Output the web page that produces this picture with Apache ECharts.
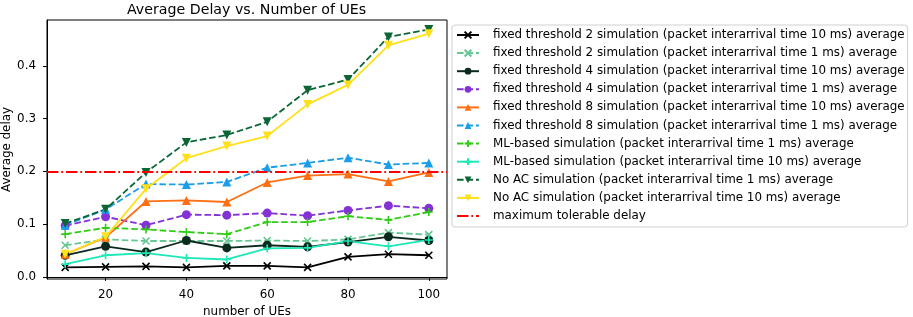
<!DOCTYPE html>
<html>
<head>
<meta charset="utf-8">
<script src="https://cdn.jsdelivr.net/npm/echarts@6/dist/echarts.min.js"></script>
<style>
  html, body { margin: 0; padding: 0; background: #fff; }
  #chart { width: 913px; height: 317px; }
</style>
</head>
<body>
<div id="chart"></div>
<script>
// number of UEs
var ues = [10, 20, 30, 40, 50, 60, 70, 80, 90, 100];

// average delay per curve
var ft2_10ms = [0.018, 0.019, 0.020, 0.018, 0.021, 0.021, 0.018, 0.038, 0.043, 0.041];
var ft2_1ms = [0.060, 0.071, 0.068, 0.068, 0.068, 0.069, 0.068, 0.071, 0.084, 0.080];
var ft4_10ms = [0.041, 0.058, 0.047, 0.069, 0.055, 0.060, 0.057, 0.066, 0.076, 0.069];
var ft4_1ms = [0.097, 0.114, 0.098, 0.118, 0.117, 0.121, 0.116, 0.126, 0.135, 0.130];
var ft8_10ms = [0.043, 0.075, 0.143, 0.145, 0.142, 0.179, 0.192, 0.195, 0.181, 0.198];
var ft8_1ms = [0.098, 0.128, 0.176, 0.175, 0.180, 0.207, 0.216, 0.226, 0.213, 0.216];
var ml_1ms = [0.081, 0.093, 0.090, 0.085, 0.081, 0.104, 0.104, 0.115, 0.108, 0.123];
var ml_10ms = [0.024, 0.041, 0.045, 0.036, 0.033, 0.054, 0.055, 0.068, 0.058, 0.070];
var noac_1ms = [0.101, 0.128, 0.198, 0.255, 0.269, 0.294, 0.354, 0.374, 0.455, 0.469];
var noac_10ms = [0.043, 0.076, 0.167, 0.225, 0.248, 0.267, 0.327, 0.364, 0.439, 0.461];
var maxDelay = 0.2;

var xTicks = [20, 40, 60, 80, 100];
var yTicks = [0.0, 0.1, 0.2, 0.3, 0.4];

var FONT = 'DejaVu Sans';
var X_MARK = 'path://M0,0L10,10M10,0L0,10';
var PLUS_MARK = 'path://M5,0L5,10M0,5L10,5';
var DASH = [6.6, 2.9];
var DASHDOT = [11.4, 2.9, 1.8, 2.9];

function pairs(vals) {
  return ues.map(function (u, i) { return [u, vals[i]]; });
}

function curve(name, vals, color, symbol, dashed, opts) {
  opts = opts || {};
  return {
    name: name,
    type: 'line',
    data: pairs(vals),
    symbol: symbol,
    symbolSize: opts.size || 9,
    symbolRotate: opts.rotate || 0,
    showAllSymbol: true,
    lineStyle: { color: color, width: 1.8, type: dashed ? DASH : 'solid' },
    itemStyle: { color: color, borderColor: color, borderWidth: opts.stroke ? 1.6 : 0, opacity: 1 },
    emphasis: { disabled: true },
    animation: false
  };
}

var chart = echarts.init(document.getElementById('chart'));

var option = {
  backgroundColor: '#fff',
  textStyle: { fontFamily: FONT },
  title: {
    text: 'Average Delay vs. Number of UEs',
    left: 127,
    top: 3,
    padding: 0,
    textStyle: { fontFamily: FONT, fontSize: 14.2, fontWeight: 'normal', color: '#000' }
  },
  grid: {
    left: 47, right: 466, top: 20, bottom: 38,
    outerBoundsMode: 'none',
    containLabel: false,
    show: true, borderColor: '#000', borderWidth: 1
  },
  legend: {
    orient: 'vertical',
    left: 452,
    top: 25,
    padding: [3, 3, 4, 4],
    itemWidth: 22,
    itemHeight: 8.5,
    itemGap: 4.1,
    borderColor: '#d0d0d0',
    borderWidth: 1,
    borderRadius: 3,
    backgroundColor: '#fff',
    selectedMode: false,
    textStyle: { fontFamily: FONT, fontSize: 11.9, lineHeight: 14, color: '#000', padding: [0, 0, 0, 9] }
  },
  xAxis: {
    type: 'value',
    min: 5.5,
    max: 104.5,
    name: 'number of UEs',
    nameLocation: 'middle',
    nameGap: 25,
    nameTextStyle: { fontFamily: FONT, fontSize: 11.9, color: '#000' },
    axisLine: { show: true, lineStyle: { color: '#000', width: 1 } },
    axisTick: { show: true, length: 4, lineStyle: { color: '#000' }, customValues: xTicks },
    axisLabel: { fontFamily: FONT, fontSize: 11.9, color: '#000', margin: 10, customValues: xTicks },
    splitLine: { show: false }
  },
  yAxis: {
    type: 'value',
    min: -0.004,
    max: 0.487,
    name: 'Average delay',
    nameLocation: 'middle',
    nameGap: 32,
    nameTextStyle: { fontFamily: FONT, fontSize: 11.9, color: '#000' },
    axisLine: { show: true, lineStyle: { color: '#000', width: 1 } },
    axisTick: { show: true, length: 4, lineStyle: { color: '#000' }, customValues: yTicks },
    axisLabel: {
      fontFamily: FONT, fontSize: 11.9, color: '#000', margin: 11, customValues: yTicks,
      formatter: function (v) { return v.toFixed(1); }
    },
    splitLine: { show: false }
  },
  series: [
    curve('fixed threshold 2 simulation (packet interarrival time 10 ms) average', ft2_10ms, '#000000', X_MARK, false, { stroke: true, size: 7 }),
    curve('fixed threshold 2 simulation (packet interarrival time 1 ms) average', ft2_1ms, '#66c795', X_MARK, true, { stroke: true, size: 7 }),
    curve('fixed threshold 4 simulation (packet interarrival time 10 ms) average', ft4_10ms, '#0b2a1e', 'circle', false),
    curve('fixed threshold 4 simulation (packet interarrival time 1 ms) average', ft4_1ms, '#8431d6', 'circle', true),
    curve('fixed threshold 8 simulation (packet interarrival time 10 ms) average', ft8_10ms, '#ff6e12', 'triangle', false),
    curve('fixed threshold 8 simulation (packet interarrival time 1 ms) average', ft8_1ms, '#1c9de8', 'triangle', true),
    curve('ML-based simulation (packet interarrival time 1 ms) average', ml_1ms, '#2ecc12', PLUS_MARK, true, { stroke: true, size: 8 }),
    curve('ML-based simulation (packet interarrival time 10 ms) average', ml_10ms, '#1ee8b6', PLUS_MARK, false, { stroke: true, size: 8 }),
    curve('No AC simulation (packet interarrival time 1 ms) average', noac_1ms, '#0b6636', 'triangle', true, { rotate: 180 }),
    curve('No AC simulation (packet interarrival time 10 ms) average', noac_10ms, '#ffe01a', 'triangle', false, { rotate: 180 }),
    {
      name: 'maximum tolerable delay',
      type: 'line',
      data: [],
      symbol: 'rect',
      lineStyle: { color: '#ff0000', width: 1.8, type: DASHDOT },
      itemStyle: { color: 'rgba(0,0,0,0)', borderWidth: 0 },
      markLine: {
        silent: true,
        symbol: 'none',
        label: { show: false },
        lineStyle: { color: '#ff0000', width: 1.8, type: DASHDOT },
        data: [{ yAxis: maxDelay }]
      },
      animation: false
    }
  ]
};

chart.setOption(option);
</script>
</body>
</html>
